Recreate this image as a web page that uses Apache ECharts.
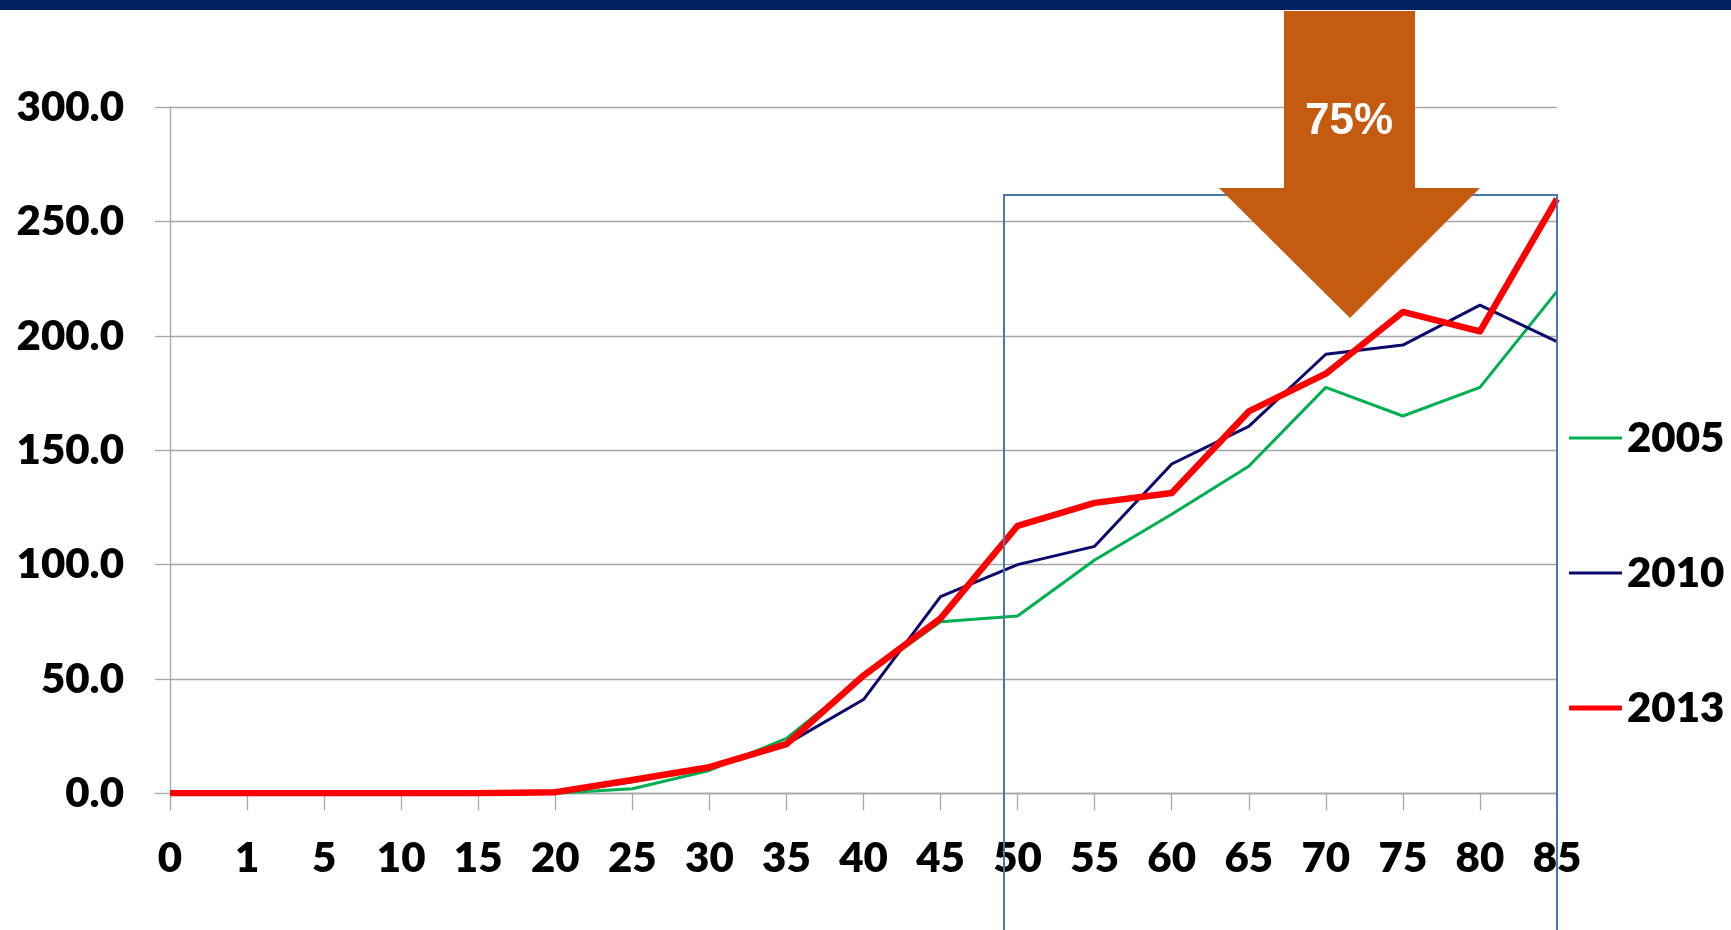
<!DOCTYPE html>
<html>
<head>
<meta charset="utf-8">
<script src="https://cdn.jsdelivr.net/npm/echarts@6/dist/echarts.min.js"></script>
<style>
html,body{margin:0;padding:0;background:#fff;}
#c{width:1731px;height:930px;}
</style>
</head>
<body>
<div id="c"></div>
<script>
const categories = ['0','1','5','10','15','20','25','30','35','40','45','50','55','60','65','70','75','80','85'];
const s2005 = [0,0,0,0,0,0,2,10,24,51,75,77.5,102,122,143,177.5,165,177.5,219.5];
const s2010 = [0,0,0,0,0,0,5,11,21.5,41,86,100,108,144,160.5,192,196,213.5,197.5];
const s2013 = [0,0,0,0,0,0.5,5.8,11.4,21.5,51.5,76.5,117,127,131.3,167,183.5,210.5,202,260];
const seriesNames = ['2005','2010','2013'];
const yTicks = [0,50,100,150,200,250,300];
const arrowLabel = '75%';

const FONT = 'Lato';
const WEIGHT = 800;
const chart = echarts.init(document.getElementById('c'), null, {renderer:'canvas'});

function legendFor(name, top, h, icon){
  return {
    data:[{name:name, icon:icon}],
    orient:'vertical', left:1569, top:top, padding:0,
    itemWidth:53, itemHeight:h, selectedMode:false,
    textStyle:{fontFamily:FONT, fontWeight:WEIGHT, fontSize:42, color:'#000'}
  };
}

chart.setOption({
  animation:false,
  backgroundColor:'#fff',
  grid:{left:170, right:174, top:107.3, bottom:136.7, containLabel:false},
  legend:[
    legendFor(seriesNames[0], 417, 3, 'rect'),
    legendFor(seriesNames[1], 552, 3, 'rect'),
    legendFor(seriesNames[2], 687, 5, 'roundRect')
  ],
  xAxis:{
    type:'category', data:categories, boundaryGap:false,
    axisLine:{show:true, lineStyle:{color:'#a6a6a6', width:1.3}},
    axisTick:{show:true, length:17, lineStyle:{color:'#a6a6a6', width:1.3}},
    axisLabel:{fontFamily:FONT, fontWeight:WEIGHT, fontSize:42, color:'#000', margin:44, interval:0},
    splitLine:{show:false}
  },
  yAxis:{
    type:'value', min:yTicks[0], max:yTicks[yTicks.length-1], interval:yTicks[1]-yTicks[0],
    axisLine:{show:true, lineStyle:{color:'#a6a6a6', width:1.3}},
    axisTick:{show:true, length:15, lineStyle:{color:'#a6a6a6', width:1.3}},
    axisLabel:{fontFamily:FONT, fontWeight:WEIGHT, fontSize:42, color:'#000', margin:46,
      formatter:v=>v.toFixed(1)},
    splitLine:{show:true, lineStyle:{color:'#a6a6a6', width:1.3}}
  },
  series:[
    {name:seriesNames[0], type:'line', data:s2005, symbol:'none', color:'#00b050',
      lineStyle:{color:'#00b050', width:3}, z:2},
    {name:seriesNames[1], type:'line', data:s2010, symbol:'none', color:'#0a0a6e',
      lineStyle:{color:'#0a0a6e', width:3}, z:3},
    {name:seriesNames[2], type:'line', data:s2013, symbol:'none', color:'#ff0000',
      lineStyle:{color:'#ff0000', width:6.5, join:'round'}, z:4}
  ],
  graphic:[
    {type:'rect', shape:{x:0, y:0, width:1731, height:10}, style:{fill:'#002060'}, z:100},
    {type:'rect', shape:{x:1004, y:195, width:553, height:800},
      style:{fill:'none', stroke:'#4a78ad', lineWidth:2}, z:50},
    {type:'polygon', shape:{points:[[1284,11],[1415,11],[1415,188],[1480,188],[1350,318],[1219,188],[1284,188]]},
      style:{fill:'#c55a11'}, z:60},
    {type:'text', x:1349, y:122, style:{text:arrowLabel, fill:'#fff', font:'bold 44px "Liberation Sans", Arial, sans-serif',
      align:'center', verticalAlign:'middle'}, z:61}
  ]
});
</script>
</body>
</html>
